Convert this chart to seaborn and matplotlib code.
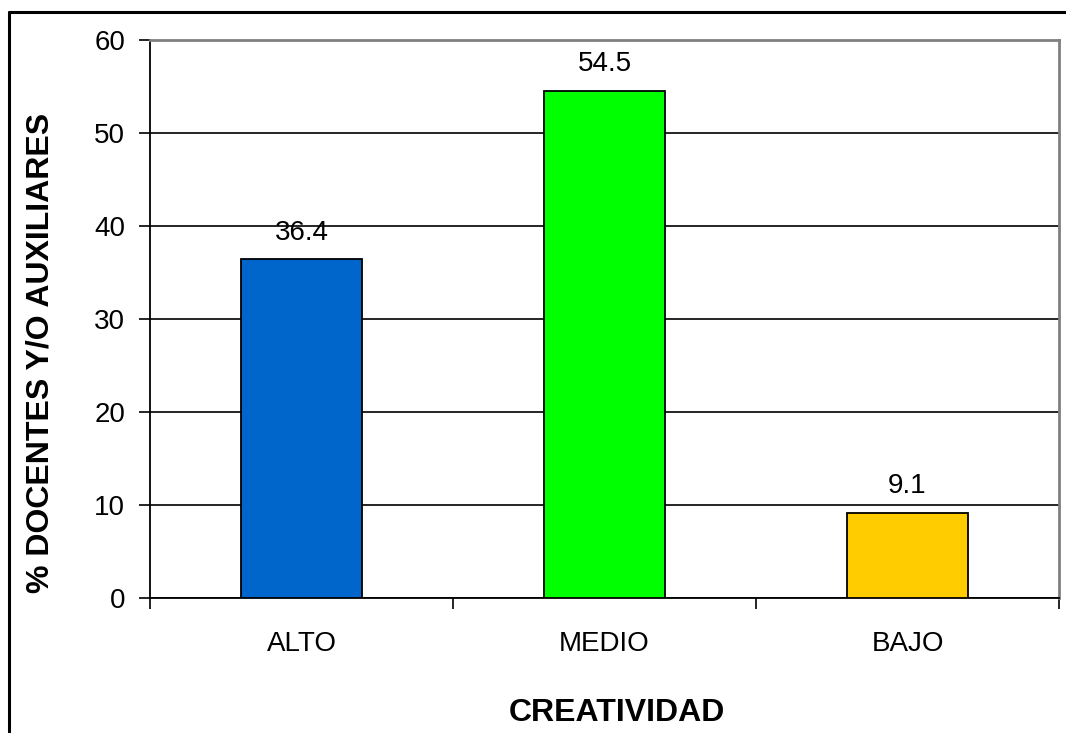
import matplotlib
matplotlib.use("Agg")
import matplotlib.pyplot as plt
import seaborn as sns
import pandas as pd
from matplotlib.lines import Line2D

categorias = ["ALTO", "MEDIO", "BAJO"]
porcentajes = [36.4, 54.5, 9.1]
colores = ["#0066CC", "#00FF00", "#FFCC00"]
yticks = [0, 10, 20, 30, 40, 50, 60]

sns.set_style("white")
plt.rcParams["font.family"] = ["Liberation Sans", "DejaVu Sans"]
plt.rcParams["text.color"] = "black"
plt.rcParams["axes.labelcolor"] = "black"
plt.rcParams["xtick.color"] = "black"
plt.rcParams["ytick.color"] = "black"

W, H = 1066, 733
fig = plt.figure(figsize=(W / 100, H / 100), dpi=100)
ax = fig.add_axes([150 / W, 1 - 598 / H, (1059 - 150) / W, (598 - 40) / H])

df = pd.DataFrame({"cat": categorias, "val": porcentajes})
sns.barplot(data=df, x="cat", y="val", hue="cat", palette=colores,
            width=0.4, edgecolor="black", linewidth=1.3, legend=False,
            saturation=1, ax=ax, zorder=3)

ax.set_ylim(0, 60)
ax.set_xlim(-0.5, 2.5)
ax.set_yticks(yticks)
ax.yaxis.grid(True, color="black", linewidth=1.2, zorder=0)
ax.set_axisbelow(True)

for i, v in enumerate(porcentajes):
    ax.annotate(f"{v}", (i, v), xytext=(0, 10), textcoords="offset points",
                ha="center", va="bottom", fontsize=20)

ax.set_xticks([0, 1, 2])
ax.set_xticklabels(categorias, fontsize=20)
ax.set_xticks([-0.5, 0.5, 1.5, 2.5], minor=True)
ax.tick_params(axis="x", which="major", length=0, pad=24)
ax.tick_params(axis="x", which="minor", length=8, width=1.2, color="black", direction="out")
ax.tick_params(axis="y", length=8, width=1.2, color="black", direction="out",
               labelsize=20, pad=10)
ax.yaxis.set_tick_params(left=True)
ax.xaxis.set_tick_params(which="minor", bottom=True)

for side in ["left", "bottom"]:
    ax.spines[side].set_color("black")
    ax.spines[side].set_linewidth(1.3)
for side in ["top", "right"]:
    ax.spines[side].set_color("#808080")
    ax.spines[side].set_linewidth(2)
    ax.spines[side].set_visible(True)

ax.set_xlabel("CREATIVIDAD", fontsize=23, fontweight="bold")
ax.set_ylabel("% DOCENTES Y/O AUXILIARES", fontsize=23, fontweight="bold")
ax.xaxis.set_label_coords(0.514, -0.1794)
ax.yaxis.set_label_coords(-0.1044, 0.439)

# marco exterior del grafico
fig.add_artist(Line2D([9 / W, 1], [1 - 12 / H, 1 - 12 / H], color="black", linewidth=2.2,
                      transform=fig.transFigure))
fig.add_artist(Line2D([9 / W, 9 / W], [0, 1 - 12 / H], color="black", linewidth=2.2,
                      transform=fig.transFigure))

fig.savefig("out.png", dpi=100)
